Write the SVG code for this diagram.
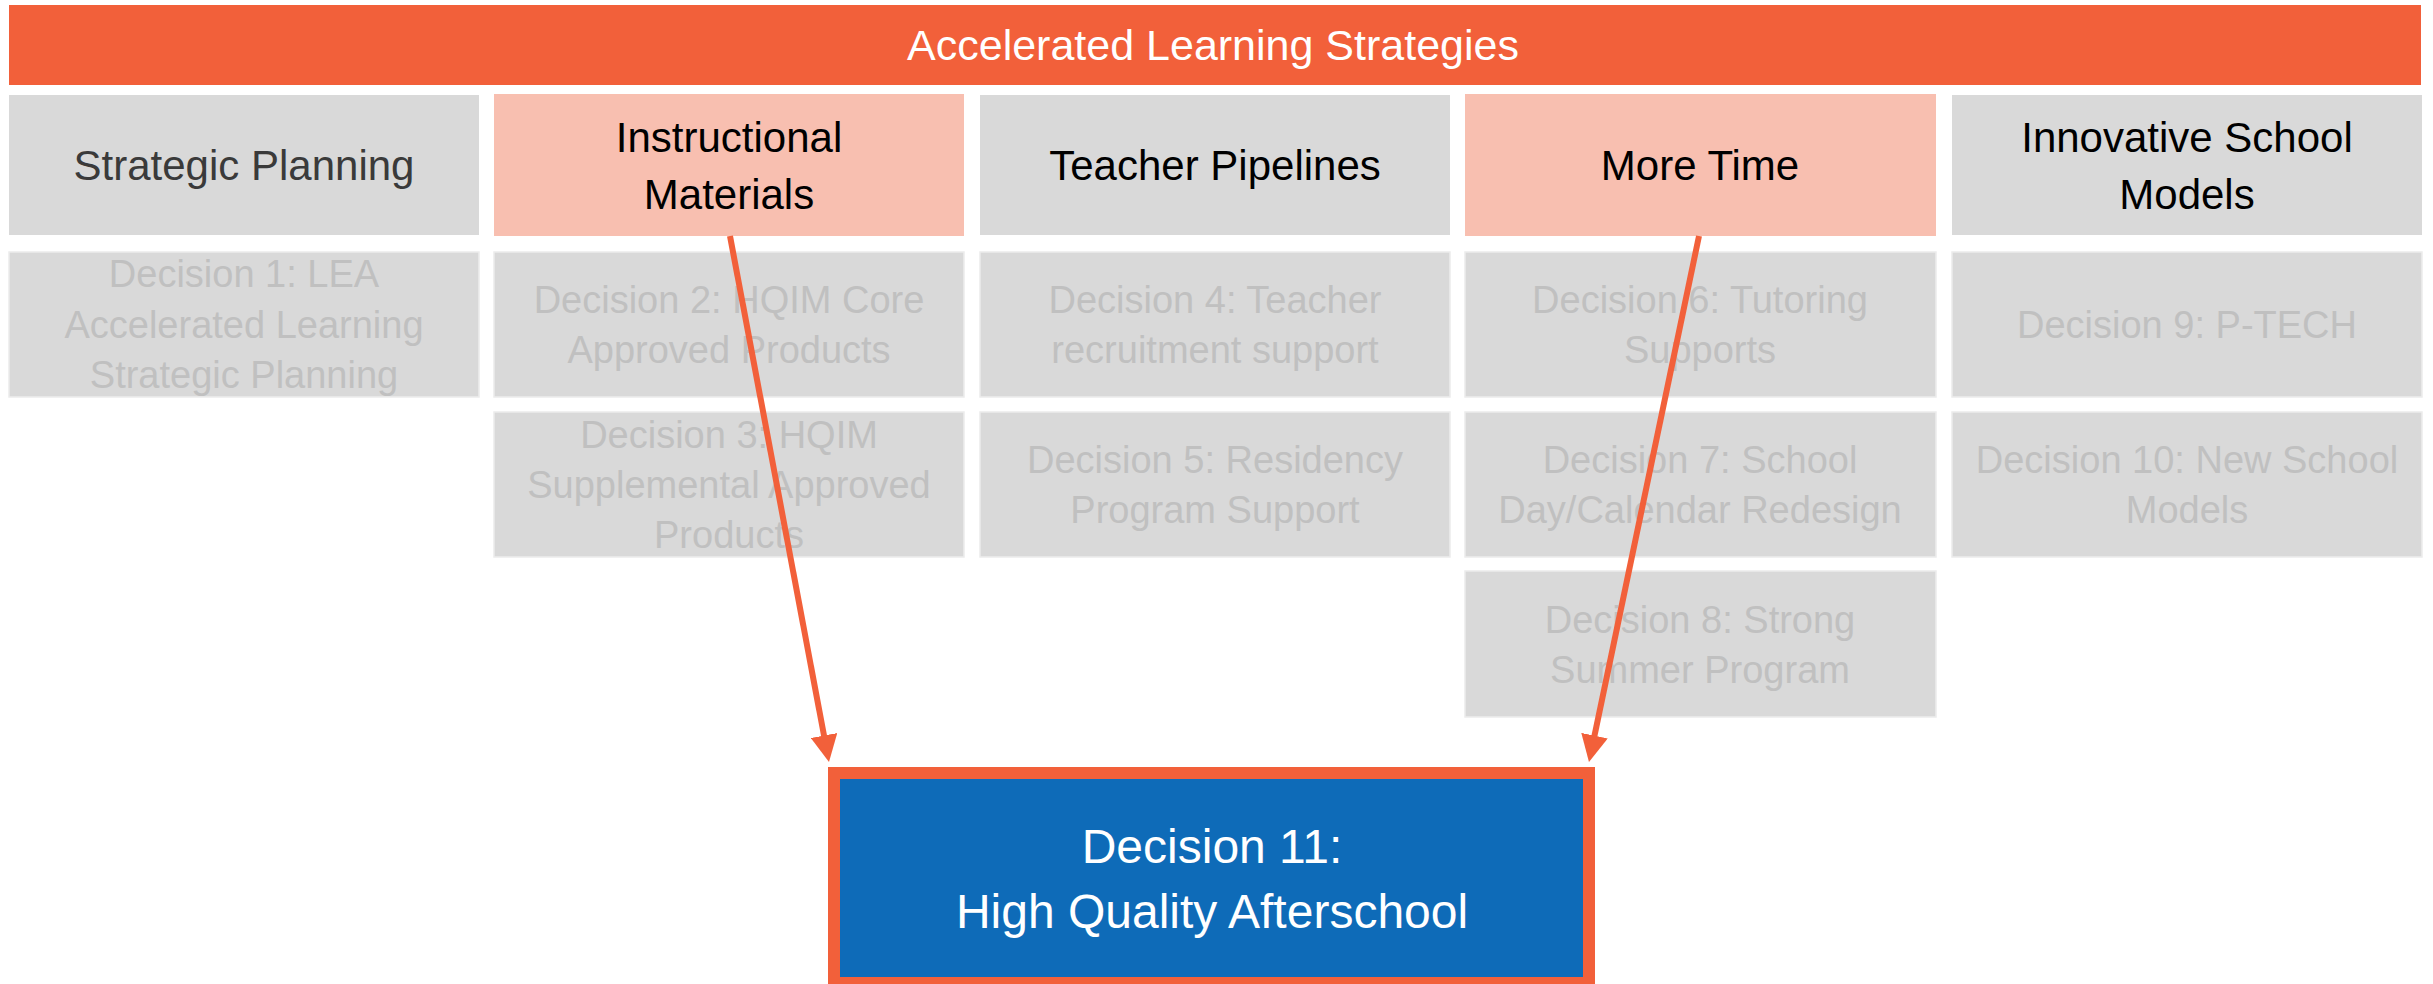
<svg xmlns="http://www.w3.org/2000/svg" width="2433" height="984" viewBox="0 0 2433 984">
<style>
.t{font-family:"Liberation Sans",Arial,sans-serif;text-anchor:middle}
.hdr{fill:#d9d9d9}
.pink{fill:#f8bfb0}
.dec{fill:#d9d9d9;stroke:#ececec;stroke-width:1.5}
.ht{font-size:42px;fill:#000}
.dt{font-size:38px;fill:#c0c0c0}
.conn{stroke:#f2603a;stroke-width:6;fill:none;marker-end:url(#ah)}
</style>
<defs>
<marker id="ah" viewBox="0 0 10 10" refX="2" refY="5" markerWidth="4.5" markerHeight="4.5" orient="auto">
<path d="M0,0 L10,5 L0,10 z" fill="#f2603a"/>
</marker>
</defs>
<rect width="2433" height="984" fill="#fff"/>

<g id="title">
<rect x="9" y="5" width="2412" height="80" fill="#f2603a"/>
<text class="t" x="1213" y="60" font-size="43" fill="#fff">Accelerated Learning Strategies</text>
</g>

<g id="h-strategic">
<rect class="hdr" x="9" y="95" width="470" height="140"/>
<text class="t ht" x="244" y="180" style="fill:#3a3a3a">Strategic Planning</text>
</g>
<g id="h-instructional">
<rect class="pink" x="494" y="94" width="470" height="142"/>
<text class="t ht" x="729" y="152">Instructional</text>
<text class="t ht" x="729" y="209">Materials</text>
</g>
<g id="h-teacher">
<rect class="hdr" x="980" y="95" width="470" height="140"/>
<text class="t ht" x="1215" y="180">Teacher Pipelines</text>
</g>
<g id="h-moretime">
<rect class="pink" x="1465" y="94" width="471" height="142"/>
<text class="t ht" x="1700" y="180">More Time</text>
</g>
<g id="h-innovative">
<rect class="hdr" x="1952" y="95" width="470" height="140"/>
<text class="t ht" x="2187" y="152">Innovative School</text>
<text class="t ht" x="2187" y="209">Models</text>
</g>

<g id="d1">
<rect class="dec" x="9" y="252" width="470" height="145"/>
<text class="t dt" x="244" y="287">Decision 1: LEA</text>
<text class="t dt" x="244" y="338">Accelerated Learning</text>
<text class="t dt" x="244" y="388">Strategic Planning</text>
</g>
<g id="d2">
<rect class="dec" x="494" y="252" width="470" height="145"/>
<text class="t dt" x="729" y="313">Decision 2: HQIM Core</text>
<text class="t dt" x="729" y="363">Approved Products</text>
</g>
<g id="d3">
<rect class="dec" x="494" y="412" width="470" height="145"/>
<text class="t dt" x="729" y="448">Decision 3: HQIM</text>
<text class="t dt" x="729" y="498">Supplemental Approved</text>
<text class="t dt" x="729" y="548">Products</text>
</g>
<g id="d4">
<rect class="dec" x="980" y="252" width="470" height="145"/>
<text class="t dt" x="1215" y="313">Decision 4: Teacher</text>
<text class="t dt" x="1215" y="363">recruitment support</text>
</g>
<g id="d5">
<rect class="dec" x="980" y="412" width="470" height="145"/>
<text class="t dt" x="1215" y="473">Decision 5: Residency</text>
<text class="t dt" x="1215" y="523">Program Support</text>
</g>
<g id="d6">
<rect class="dec" x="1465" y="252" width="471" height="145"/>
<text class="t dt" x="1700" y="313">Decision 6: Tutoring</text>
<text class="t dt" x="1700" y="363">Supports</text>
</g>
<g id="d7">
<rect class="dec" x="1465" y="412" width="471" height="145"/>
<text class="t dt" x="1700" y="473">Decision 7: School</text>
<text class="t dt" x="1700" y="523">Day/Calendar Redesign</text>
</g>
<g id="d8">
<rect class="dec" x="1465" y="571" width="471" height="146"/>
<text class="t dt" x="1700" y="633">Decision 8: Strong</text>
<text class="t dt" x="1700" y="683">Summer Program</text>
</g>
<g id="d9">
<rect class="dec" x="1952" y="252" width="470" height="145"/>
<text class="t dt" x="2187" y="338">Decision 9: P-TECH</text>
</g>
<g id="d10">
<rect class="dec" x="1952" y="412" width="470" height="145"/>
<text class="t dt" x="2187" y="473">Decision 10: New School</text>
<text class="t dt" x="2187" y="523">Models</text>
</g>

<g id="connectors">
<line class="conn" x1="730" y1="236" x2="825.0" y2="740.8"/>
<line class="conn" x1="1699" y1="236" x2="1593.4" y2="740.9"/>
</g>

<g id="d11">
<rect x="828" y="767" width="767" height="217" fill="#f2603a"/>
<rect x="840" y="779" width="743" height="198" fill="#0e6bb8"/>
<text class="t" x="1212" y="863" font-size="48" fill="#fff">Decision 11:</text>
<text class="t" x="1212" y="928" font-size="48" fill="#fff">High Quality Afterschool</text>
</g>
</svg>
